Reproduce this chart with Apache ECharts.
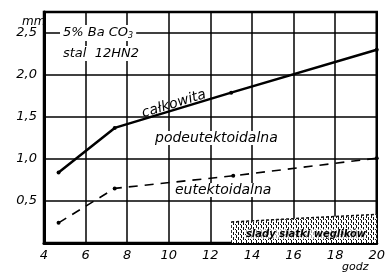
<!DOCTYPE html>
<html>
<head>
<meta charset="utf-8">
<script src="https://cdn.jsdelivr.net/npm/echarts@6/dist/echarts.min.js"></script>
<style>
  html, body { margin: 0; padding: 0; background: #fff; }
  #chart { width: 388px; height: 275px; }
</style>
</head>
<body>
<div id="chart"></div>
<script>
// values (x: godz, y: mm)
const xTicks = [4, 6, 8, 10, 12, 14, 16, 18, 20]
const yTicks = [0.5, 1.0, 1.5, 2.0, 2.5]
const totalX = [4.7, 7.4, 13.0, 20.0]
const totalY = [0.84, 1.37, 1.79, 2.30]
const eutX = [4.7, 7.4, 13.1, 20.0]
const eutY = [0.24, 0.65, 0.80, 1.01]
const hatchX = [13.0, 16.0, 20.0]
const hatchY = [0.25, 0.29, 0.34]

const pair = (xs, ys) => xs.map((x, i) => [x, ys[i]])

// dotted texture for the "ślady siatki węglików" region
function makePattern() {
  const c = document.createElement('canvas')
  c.width = 5
  c.height = 5
  const g = c.getContext('2d')
  g.fillStyle = '#fff'
  g.fillRect(0, 0, 5, 5)
  g.fillStyle = '#111'
  g.fillRect(1, 0, 1, 3)
  g.fillRect(3, 2, 1, 3)
  g.fillRect(0, 4, 1, 1)
  return c
}

const font = 'DejaVu Sans'
const chart = echarts.init(document.getElementById('chart'))

chart.setOption({
  animation: false,
  grid: {
    left: 44,
    right: 5,
    top: 12,
    bottom: 32,
    show: true,
    borderColor: '#000',
    borderWidth: 2.5
  },
  xAxis: {
    type: 'value',
    min: 4,
    max: 20,
    interval: 2,
    axisLine: { lineStyle: { color: '#000', width: 3 } },
    axisTick: { show: false },
    splitLine: { lineStyle: { color: '#000', width: 1.5 } },
    axisLabel: {
      color: '#000',
      fontFamily: font,
      fontStyle: 'italic',
      fontSize: 13,
      margin: 6,
      formatter: v => (xTicks.includes(v) ? String(v) : '')
    }
  },
  yAxis: {
    type: 'value',
    min: 0,
    max: 2.75,
    interval: 0.5,
    axisLine: { show: true, lineStyle: { color: '#000', width: 3 } },
    axisTick: { show: false },
    splitLine: { lineStyle: { color: '#000', width: 1.5 } },
    axisLabel: {
      color: '#000',
      fontFamily: font,
      fontStyle: 'italic',
      fontSize: 13,
      margin: 7,
      formatter: v => (yTicks.includes(v) ? v.toFixed(1).replace('.', ',') : '')
    }
  },
  series: [
    {
      name: 'ślady siatki węglików',
      type: 'line',
      data: pair(hatchX, hatchY),
      symbol: 'none',
      z: 1,
      lineStyle: { color: '#111', width: 1.5, type: [3, 2] },
      areaStyle: { color: { image: makePattern(), repeat: 'repeat' }, opacity: 1 }
    },
    {
      name: 'całkowita',
      type: 'line',
      data: pair(totalX, totalY),
      symbol: 'circle',
      symbolSize: 4,
      itemStyle: { color: '#000' },
      lineStyle: { color: '#000', width: 2.5 },
      z: 3
    },
    {
      name: 'eutektoidalna',
      type: 'line',
      data: pair(eutX, eutY),
      symbol: 'circle',
      symbolSize: 4,
      itemStyle: { color: '#000' },
      lineStyle: { color: '#000', width: 1.6, type: [9, 7] },
      z: 3
    }
  ],
  graphic: [
    { type: 'text', left: 22, top: 16, style: { text: 'mm', font: 'italic 12px ' + font, fill: '#000' } },
    {
      type: 'text', left: 60, top: 25, z: 10,
      style: {
        text: '{a|5% Ba CO}{s|3}',
        backgroundColor: '#fff',
        padding: [1, 3, 1, 3],
        rich: {
          a: { font: 'italic 13px ' + font, fill: '#000' },
          s: { font: 'italic 8px ' + font, fill: '#000', verticalAlign: 'bottom', padding: [6, 0, 0, 0] }
        }
      }
    },
    {
      type: 'text', left: 60, top: 46, z: 10,
      style: { text: 'stal  12HN2', font: 'italic 13px ' + font, fill: '#000', backgroundColor: '#fff', padding: [1, 3, 1, 3] }
    },
    {
      type: 'text', x: 174, y: 104, rotation: 0.30, z: 10,
      style: { text: 'całkowita', font: 'italic 14px ' + font, fill: '#000', align: 'center', verticalAlign: 'middle' }
    },
    {
      type: 'text', left: 153, top: 131, z: 10,
      style: { text: 'podeutektoidalna', font: 'italic 14px ' + font, fill: '#000', backgroundColor: '#fff', padding: [0, 2, 0, 2] }
    },
    {
      type: 'text', left: 173, top: 183, z: 10,
      style: { text: 'eutektoidalna', font: 'italic 14px ' + font, fill: '#000', backgroundColor: '#fff', padding: [0, 2, 0, 2] }
    },
    {
      type: 'text', x: 306, y: 234, z: 10,
      style: { text: 'ślady siatki węglików', font: 'italic bold 10px ' + font, fill: '#000', align: 'center', verticalAlign: 'middle', backgroundColor: 'rgba(255,255,255,0.6)' }
    },
    { type: 'text', left: 342, top: 262, style: { text: 'godz', font: 'italic 11px ' + font, fill: '#000' } }
  ]
})
</script>
</body>
</html>
